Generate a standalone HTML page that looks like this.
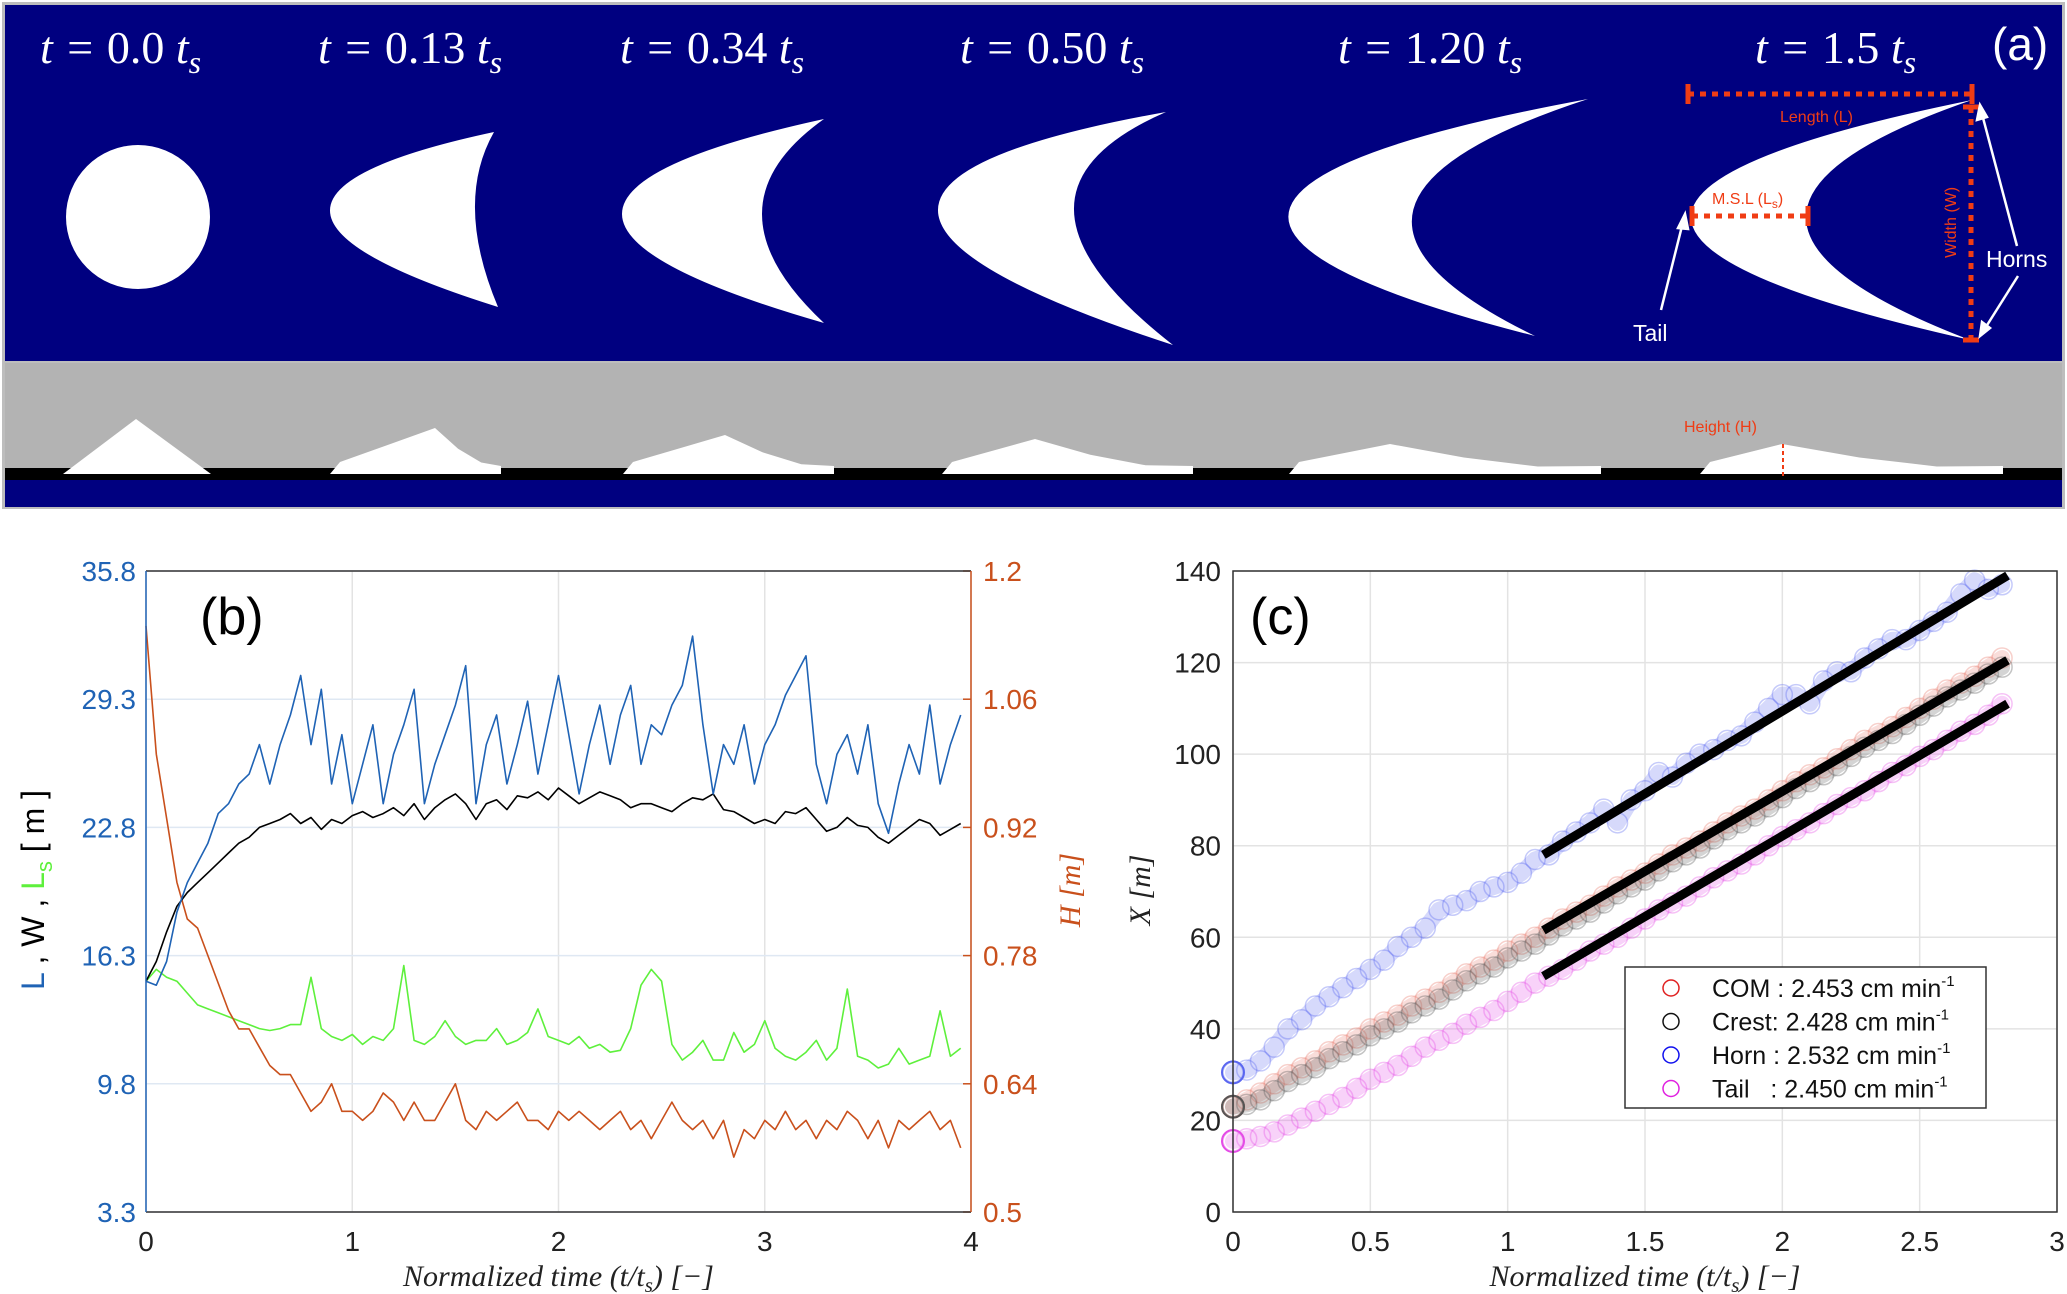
<!DOCTYPE html>
<html><head><meta charset="utf-8"><style>
html,body{margin:0;padding:0;background:#fff}
svg{display:block}
text{font-family:"Liberation Sans",sans-serif}
.serif{font-family:"Liberation Serif",serif}
</style></head><body>
<svg id="fig" width="2067" height="1294" viewBox="0 0 2067 1294" xmlns="http://www.w3.org/2000/svg">
<g id="panelA">
  <rect x="2" y="2" width="2063" height="507" fill="#bdbdbd"/>
  <rect x="5" y="5" width="2057" height="356" fill="#000080"/>
  <rect x="5" y="363" width="2057" height="105" fill="#b3b3b3"/>
  <rect x="5" y="468" width="2057" height="12" fill="#000"/>
  <rect x="5" y="480" width="2057" height="27" fill="#000080"/>
  <g id="shapes"></g>
  <g fill="#fff" font-size="46" class="serif" font-style="italic">
    <text x="40" y="63" class="serif">t = <tspan font-style="normal">0.0</tspan> t<tspan font-size="32" dy="10">s</tspan></text>
    <text x="318" y="63" class="serif">t = <tspan font-style="normal">0.13</tspan> t<tspan font-size="32" dy="10">s</tspan></text>
    <text x="620" y="63" class="serif">t = <tspan font-style="normal">0.34</tspan> t<tspan font-size="32" dy="10">s</tspan></text>
    <text x="960" y="63" class="serif">t = <tspan font-style="normal">0.50</tspan> t<tspan font-size="32" dy="10">s</tspan></text>
    <text x="1338" y="63" class="serif">t = <tspan font-style="normal">1.20</tspan> t<tspan font-size="32" dy="10">s</tspan></text>
    <text x="1755" y="63" class="serif">t = <tspan font-style="normal">1.5</tspan> t<tspan font-size="32" dy="10">s</tspan></text>
  </g>
  <text x="1992" y="60" fill="#fff" font-size="46">(a)</text>
  <g stroke="#f03c14" stroke-width="5" fill="none">
    <line x1="1688" y1="94" x2="1972" y2="94" stroke-dasharray="6,6"/>
    <line x1="1688" y1="84" x2="1688" y2="104"/>
    <line x1="1972" y1="84" x2="1972" y2="104"/>
    <line x1="1692" y1="216" x2="1808" y2="216" stroke-dasharray="6,6"/>
    <line x1="1692" y1="206" x2="1692" y2="226"/>
    <line x1="1808" y1="206" x2="1808" y2="226"/>
    <line x1="1971" y1="107" x2="1971" y2="340" stroke-dasharray="6,6"/>
    <line x1="1963" y1="107" x2="1979" y2="107"/>
    <line x1="1963" y1="340" x2="1979" y2="340"/>
    <line x1="1783" y1="444" x2="1783" y2="478" stroke-width="2" stroke-dasharray="4,3"/>
  </g>
  <g fill="#f03c14" font-size="16">
    <text x="1780" y="122">Length (L)</text>
    <text x="1712" y="204">M.S.L (L<tspan font-size="12" dy="4">s</tspan><tspan dy="-4">)</tspan></text>
    <text x="0" y="0" transform="translate(1956,258) rotate(-90)">Width (W)</text>
    <text x="1684" y="432">Height (H)</text>
  </g>
  <g stroke="#fff" stroke-width="2.5" fill="#fff">
    <line x1="1661" y1="310" x2="1683" y2="222"/>
    <polygon points="1685,214 1678,228 1688,229"/>
    <line x1="2017" y1="246" x2="1982" y2="114"/>
    <polygon points="1980,105 1977,120 1987,117"/>
    <line x1="2018" y1="276" x2="1984" y2="330"/>
    <polygon points="1980,336 1982,322 1990,328"/>
  </g>
  <text x="1986" y="267" fill="#fff" font-size="23">Horns</text>
  <text x="1633" y="341" fill="#fff" font-size="23">Tail</text>
</g>
<g id="panelB"></g>
<g id="panelC"></g>
</svg>
<script>
// ---------- Panel (b) data ----------
const bTimeMax = 3.95;
const bXTicks = [0, 1, 2, 3, 4];
const bLeftTicks = [3.3, 9.8, 16.3, 22.8, 29.3, 35.8];
const bRightTicks = [0.5, 0.64, 0.78, 0.92, 1.06, 1.2];
const seriesL = [15,14.8,16,18.5,20,21,22,23.5,24,25,25.5,27,25,27,28.5,30.5,27,29.8,25,27.5,24,26,28,24,26.5,28,29.8,24,26,27.5,29,31,24,27,28.5,25,27,29.2,25.5,28,30.5,27.5,24.5,27,29,26,28.5,30,26,28,27.5,29,30,32.5,28,24.5,27,26,28,25,27,28,29.5,30.5,31.5,26,24,26.5,27.5,25.5,28,24,22.5,25,27,25.5,29,25,27,28.5];
const seriesW = [15,16,17.5,18.8,19.5,20,20.5,21,21.5,22,22.3,22.8,23,23.2,23.5,23,23.3,22.7,23.2,23,23.4,23.6,23.3,23.5,23.8,23.4,24,23.2,23.8,24.2,24.5,24,23.2,24,24.2,23.7,24.4,24.3,24.6,24.2,24.8,24.4,24,24.3,24.6,24.4,24.2,23.8,24,24,23.8,23.6,24,24.3,24.2,24.5,23.7,23.6,23.3,23,23.2,23,23.6,23.5,23.8,23.2,22.6,22.8,23.3,22.9,22.8,22.3,22,22.4,22.8,23.2,23,22.4,22.7,23.0];
const seriesLs = [15,15.6,15.2,15,14.4,13.8,13.6,13.4,13.2,13,12.8,12.6,12.5,12.6,12.8,12.8,15.2,12.6,12.2,12.0,12.3,11.8,12.2,12.0,12.6,15.8,12.0,11.8,12.2,13.0,12.2,11.8,12.0,12.0,12.6,11.8,12.0,12.4,13.6,12.2,12.0,11.8,12.2,11.6,11.8,11.4,11.5,12.6,14.8,15.6,15.0,11.8,11.0,11.4,12.0,11.0,11.0,12.4,11.4,11.8,13.0,11.6,11.2,11.0,11.4,12.0,11.0,11.6,14.6,11.2,11.0,10.6,10.8,11.6,10.8,11.0,11.2,13.5,11.2,11.6];
const seriesH = [1.14,1.0,0.93,0.86,0.82,0.81,0.78,0.75,0.72,0.70,0.70,0.68,0.66,0.65,0.65,0.63,0.61,0.62,0.64,0.61,0.61,0.60,0.61,0.63,0.62,0.60,0.62,0.60,0.60,0.62,0.64,0.60,0.59,0.61,0.60,0.61,0.62,0.60,0.60,0.59,0.61,0.60,0.61,0.60,0.59,0.60,0.61,0.59,0.60,0.58,0.60,0.62,0.60,0.59,0.60,0.58,0.60,0.56,0.59,0.58,0.60,0.59,0.61,0.59,0.60,0.58,0.60,0.59,0.61,0.60,0.58,0.60,0.57,0.60,0.59,0.60,0.61,0.59,0.60,0.57];

// ---------- Panel (c) data ----------
const cStep = 0.05;
const cXTicks = [0, 0.5, 1, 1.5, 2, 2.5, 3];
const cXTickLabels = ["0","0.5","1","1.5","2","2.5","3"];
const cYTicks = [0, 20, 40, 60, 80, 100, 120, 140];
const hornX = [30.5,31,33,36,40,42,45,47,49,51,53,55,58,60,62,66,67,68,70,71,72,74,77,78,81,83,85,88,85,90,92,96,95,98,100,101,103,104,107,110,113,113,111,116,118,118,121,123,125,125,127,129,131,135,138,136,137];
const comX = [23,24.5,26,28,30,31.5,33,35,36.5,38,40,41.5,43,45,46.5,48,50,52,53.5,55,57,58.5,60,62,64,65.5,67,69,71,72.5,74,76,78,79.5,81,83,85,86.5,88,90,92,94,95.5,97,99,101,103,104.5,106,108,110,112,114,115.5,117,119,121];
const crestX = [23,23.5,24.5,26.5,28.5,30,31.5,33.5,35,36.5,38.5,40,41.5,43.5,45,46.5,48.5,50.5,52,53.5,55.5,57,58.5,60.5,62.5,64,65.5,67.5,69.5,71,72.5,74.5,76.5,78,79.5,81.5,83.5,85,86.5,88.5,90.5,92.5,94,95.5,97.5,99.5,101.5,103,104.5,106.5,108.5,110.5,112.5,114,115.5,117.5,119];
const tailX = [15.5,16,16.5,17.5,19,20.5,22,23.5,25,27,29,30.5,32,34,36,37.5,39,41,42.5,44,46,48,50,51.5,53,55,57,58.5,60,62,64,66,67.5,69,71,73,74.5,76,78,80,82,83.5,85,87,89,90.5,92,94,96,97.5,99.5,101,103,105,106.5,108.5,111];
const fitStartT = [1.13, 1.13, 1.13];
const fitEndT = [2.82, 2.82, 2.82];
const fitStartX = [78, 61.5, 51.5];
const fitEndX = [139, 120.5, 111];
const legendLabels = ["COM : 2.453 cm min", "Crest: 2.428 cm min", "Horn : 2.532 cm min", "Tail   : 2.450 cm min"];

const NS = "http://www.w3.org/2000/svg";
function mk(tag, attrs, parent) {
  const e = document.createElementNS(NS, tag);
  for (const k in attrs) e.setAttribute(k, attrs[k]);
  parent.appendChild(e);
  return e;
}

// ---------- Panel (a) shapes ----------
const shapes = document.getElementById('shapes');
const circ = mk('ellipse', {cx:138, cy:217, rx:72, ry:72, fill:'#fff'}, shapes);


const crescents = [
  [[494,132],[498,307],[330,211],[475,211]],
  [[824,119],[824,323],[622,214],[762,214]],
  [[1166,112],[1173,345],[938,211],[1074,211]],
  [[1588,99],[1535,336],[1289,211],[1413,211]],
  [[1972,100],[1970,340],[1691,217],[1806,217]]
];
crescents.forEach((c, i) => {
  const [T,B,L,I] = c;
  const mx=(T[0]+B[0])/2, my=(T[1]+B[1])/2;
  const c1=[2*L[0]-mx,2*L[1]-my], c2=[2*I[0]-mx,2*I[1]-my];
  const p = mk('path', {d:`M${T[0]},${T[1]} Q${c1[0]},${c1[1]} ${B[0]},${B[1]} Q${c2[0]},${c2[1]} ${T[0]},${T[1]}Z`, fill:'#fff'}, shapes);
  
  
});
const profiles = [[63,136,419,211,false],[330,435,428,501,true],[623,725,435,834,true],[942,1035,439,1193,true],[1289,1390,444,1601,true],[1700,1782,444,2003,true]];
profiles.forEach((p, i) => {
  const [x0,px,py,x1,skew] = p;
  let pts;
  if (!skew) pts = `${x0},474 ${px},${py} ${x1},474`;
  else pts = `${x0},474 ${x0+10},462 ${px},${py} ${px+(x1-px)*0.35},${py+(474-py)*0.45} ${px+(x1-px)*0.7},${py+(474-py)*0.75} ${x1},466 ${x1},474`;
  const e = mk('polygon', {points:pts, fill:'#fff'}, shapes);
  
  
});

// ---------- Panel (b) ----------
(function(){
  const g = document.getElementById('panelB');
  const L=146, R=971, T=571, Bt=1212;
  const xs = t => L + (t/4)*(R-L);
  const yl = v => Bt - (v-3.3)/(35.8-3.3)*(Bt-T);
  const yr = v => Bt - (v-0.5)/(0.7)*(Bt-T);
  const blue='#1f63b5', orange='#c9501c';
  mk('rect',{x:L,y:T,width:R-L,height:Bt-T,fill:'#fff'},g);
  bXTicks.forEach(t=>{
    const l=mk('line',{x1:xs(t),y1:T,x2:xs(t),y2:Bt,stroke:'#e3e3e3','stroke-width':1.5},g);
     
    const tx=mk('text',{x:xs(t),y:Bt+39,'font-size':28,'text-anchor':'middle',fill:'#222'},g);
    tx.textContent=t;
     
  });
  bLeftTicks.forEach(v=>{
    const l=mk('line',{x1:L,y1:yl(v),x2:R,y2:yl(v),stroke:'#dfe8f3','stroke-width':1.5},g);
     
    const tx=mk('text',{x:L-10,y:yl(v)+10,'font-size':28,'text-anchor':'end',fill:blue},g);
    tx.textContent=v.toFixed(1);
     
  });
  bRightTicks.forEach(v=>{
    mk('line',{x1:R-8,y1:yr(v),x2:R,y2:yr(v),stroke:orange,'stroke-width':1.5},g);
    const tx=mk('text',{x:R+12,y:yr(v)+10,'font-size':28,fill:orange},g);
    tx.textContent=String(v);
     
  });
  function line(arr, yf, col, name, w){
    const n=arr.length;
    const pts=arr.map((v,i)=>`${xs(i*bTimeMax/(n-1)).toFixed(1)},${yf(v).toFixed(1)}`).join(' ');
    const p=mk('polyline',{points:pts,fill:'none',stroke:col,'stroke-width':w||1.6,'stroke-linejoin':'round'},g);
     
  }
  line(seriesLs, yl, '#5ef03c', 'series-ls');
  line(seriesH, yr, orange, 'series-h');
  line(seriesW, yl, '#000', 'series-w');
  line(seriesL, yl, blue, 'series-l');
  mk('line',{x1:L,y1:T,x2:R,y2:T,stroke:'#333','stroke-width':1.5},g);
  mk('line',{x1:L,y1:Bt,x2:R,y2:Bt,stroke:'#333','stroke-width':1.5},g);
  mk('line',{x1:L,y1:T,x2:L,y2:Bt,stroke:blue,'stroke-width':1.5},g);
  mk('line',{x1:R,y1:T,x2:R,y2:Bt,stroke:orange,'stroke-width':1.5},g);
  const lab=mk('text',{x:200,y:634,'font-size':52,fill:'#000'},g); lab.textContent='(b)';
   
  const xl=mk('text',{x:(L+R)/2,y:1286,'font-size':30,'text-anchor':'middle',fill:'#222','font-style':'italic',class:'serif'},g);
  xl.innerHTML='Normalized time (t/t<tspan font-size="21" dy="6">s</tspan><tspan dy="-6">) [−]</tspan>';
   
  const yt=mk('text',{transform:'translate(44,890) rotate(-90)','font-size':32,'text-anchor':'middle'},g);
  yt.innerHTML='<tspan fill="'+blue+'">L</tspan><tspan fill="#000"> ,  W ,  </tspan><tspan fill="#5ef03c">L<tspan font-size="22" dy="8">s</tspan></tspan><tspan fill="#000" dy="-8">  [ m ]</tspan>';
   
  const yt2=mk('text',{transform:'translate(1080,890) rotate(-90)','font-size':30,'text-anchor':'middle',fill:orange,'font-style':'italic',class:'serif'},g);
  yt2.textContent='H  [m]';
   
})();

// ---------- Panel (c) ----------
(function(){
  const g = document.getElementById('panelC');
  const L=1233, R=2057, T=571, Bt=1212;
  const xs = t => L + (t/3)*(R-L);
  const ys = v => Bt - v/140*(Bt-T);
  mk('rect',{x:L,y:T,width:R-L,height:Bt-T,fill:'#fff'},g);
  cXTicks.forEach((t,i)=>{
    const l=mk('line',{x1:xs(t),y1:T,x2:xs(t),y2:Bt,stroke:'#e3e3e3','stroke-width':1.5},g);
     
    const tx=mk('text',{x:xs(t),y:Bt+39,'font-size':28,'text-anchor':'middle',fill:'#222'},g);
    tx.textContent=cXTickLabels[i];
     
  });
  cYTicks.forEach(v=>{
    const l=mk('line',{x1:L,y1:ys(v),x2:R,y2:ys(v),stroke:'#e3e3e3','stroke-width':1.5},g);
     
    const tx=mk('text',{x:L-12,y:ys(v)+10,'font-size':28,'text-anchor':'end',fill:'#222'},g);
    tx.textContent=v;
     
  });
  function scatter(arr, col, name){
    const grp=mk('g',{},g);
     
    const pts=arr.map((v,i)=>`${xs(i*cStep).toFixed(1)},${ys(v).toFixed(1)}`).join(' ');
    mk('polyline',{points:pts,fill:'none',stroke:col,'stroke-opacity':0.25,'stroke-width':16,'stroke-linejoin':'round','stroke-linecap':'round'},grp);
    arr.forEach((v,i)=>{
      const c=mk('circle',{cx:xs(i*cStep),cy:ys(v),r:10,fill:'none',stroke:col,'stroke-opacity':0.35,'stroke-width':1.5},grp);
       
    });
    const c0=mk('circle',{cx:xs(0),cy:ys(arr[0]),r:11,fill:'none',stroke:col,'stroke-width':2},grp);
     
  }
  scatter(tailX,'#e44ce6','tail-series');
  scatter(comX,'#e8786a','com-series');
  scatter(crestX,'#555555','crest-series');
  scatter(hornX,'#5a66f0','horn-series');
  fitStartT.forEach((t,i)=>{
    const l=mk('line',{x1:xs(t),y1:ys(fitStartX[i]),x2:xs(fitEndT[i]),y2:ys(fitEndX[i]),stroke:'#000','stroke-width':9},g);
     
  });
  mk('rect',{x:L,y:T,width:R-L,height:Bt-T,fill:'none',stroke:'#333','stroke-width':1.5},g);
  const lg=mk('g',{},g);
   
  mk('rect',{x:1625,y:967,width:361,height:141,fill:'#fff',stroke:'#333','stroke-width':1.5},lg);
  const lcols=['#e02020','#111','#1010ee','#e020e0'];
  legendLabels.forEach((s,i)=>{
    const y=988+i*33.5;
    const c=mk('circle',{cx:1671,cy:y,r:8,fill:'none',stroke:lcols[i],'stroke-width':1.5},lg);
     
    const tx=mk('text',{x:1712,y:y+9,'font-size':25,fill:'#111'},lg);
    tx.innerHTML=s.replace(/ /g,'\u00a0')+'<tspan font-size="15" dy="-11">-1</tspan>';
     
  });
  const lab=mk('text',{x:1250,y:634,'font-size':52,fill:'#000'},g); lab.textContent='(c)';
   
  const xl=mk('text',{x:(L+R)/2,y:1286,'font-size':30,'text-anchor':'middle',fill:'#222','font-style':'italic',class:'serif'},g);
  xl.innerHTML='Normalized time (t/t<tspan font-size="21" dy="6">s</tspan><tspan dy="-6">) [−]</tspan>';
   
  const yt=mk('text',{transform:'translate(1150,890) rotate(-90)','font-size':30,'text-anchor':'middle',fill:'#222','font-style':'italic',class:'serif'},g);
  yt.textContent='X  [m]';
   
})();
</script>
</body></html>
